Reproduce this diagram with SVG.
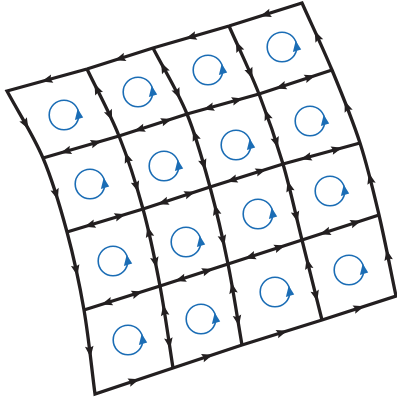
<svg xmlns="http://www.w3.org/2000/svg" xmlns:xlink="http://www.w3.org/1999/xlink" width="397" height="401" viewBox="0 0 397 401">
<style>
.ln{fill:none;stroke:#231f20;stroke-width:3.3;stroke-linejoin:miter;stroke-miterlimit:10}
.ah{fill:#231f20}
.cy{fill:none;stroke:#1b6db5;stroke-width:1.6}
.cah{fill:#1b6db5}
</style>
<defs>
<path id="ah" class="ah" d="M5.6,0 L-5.4,-4.3 L-3.6,0 L-5.4,4.3 Z"/>
<g id="cyc">
<circle class="cy" cx="0" cy="0" r="14.8"/>
<path class="cah" d="M13.7,-6.2 L10.9,5 L19.2,2.6 Z"/>
</g>
</defs>
<rect width="397" height="401" fill="#fff"/>
<g id="connectors">
<path class="ln" d="M7,91 L87,69 L153,48 L229,26 L302,3 C312,25.33 322.33,46.67 332,70 C341.67,93.33 352.17,118.83 360,143 C367.83,167.17 373,189.5 379,215 C385,240.5 390.33,269 396,296 L322,320 L242,345 L173,368 L95,394 C91.33,366 88.67,337 84,310 C79.33,283 73.83,257.33 67,232 C60.17,206.67 53,181.5 43,158 C33,134.5 19,113.33 7,91 Z"/>
<path class="ln" d="M43,158 L119,136 L187,114 L259,94 L332,70"/>
<path class="ln" d="M67,232 L143,209 L210,187 L283,164 L360,143"/>
<path class="ln" d="M84,310 L160,286 L228,264 L302,240 L379,215"/>
<path class="ln" d="M87,69 C97.67,91.33 109.67,112.67 119,136 C128.33,159.33 136.17,184 143,209 C149.83,234 155,259.5 160,286 C165,312.5 168.67,340.67 173,368"/>
<path class="ln" d="M153,48 C164.33,70 177.5,90.83 187,114 C196.5,137.17 203.17,162 210,187 C216.83,212 222.67,237.67 228,264 C233.330,290.33 237.33,318 242,345"/>
<path class="ln" d="M229,26 C239,48.67 250,71 259,94 C268,117 275.83,139.67 283,164 C290.17,188.33 295.5,214 302,240 C308.5,266 315.33,293.33 322,320"/>
<g id="arrows">
<use xlink:href="#ah" transform="translate(25.75,124.06) rotate(60.4)"/>
<use xlink:href="#ah" transform="translate(56.19,194.31) rotate(72.55)"/>
<use xlink:href="#ah" transform="translate(76.31,270.38) rotate(77.75)"/>
<use xlink:href="#ah" transform="translate(89.88,351.6) rotate(83.1)"/>
<use xlink:href="#ah" transform="translate(317.1,36.1) rotate(245.4)"/>
<use xlink:href="#ah" transform="translate(346.7,106.2) rotate(248.6)"/>
<use xlink:href="#ah" transform="translate(370.2,178.5) rotate(255.6)"/>
<use xlink:href="#ah" transform="translate(387.6,254.9) rotate(258.5)"/>
<use xlink:href="#ah" transform="translate(47,80) rotate(164.6)"/>
<use xlink:href="#ah" transform="translate(120,58.5) rotate(162.4)"/>
<use xlink:href="#ah" transform="translate(191,37) rotate(163.9)"/>
<use xlink:href="#ah" transform="translate(265.5,14.5) rotate(162.5)"/>
<use xlink:href="#ah" transform="translate(134,381) rotate(-18.4)"/>
<use xlink:href="#ah" transform="translate(207.5,356.5) rotate(-18.4)"/>
<use xlink:href="#ah" transform="translate(282,332.5) rotate(-17.4)"/>
<use xlink:href="#ah" transform="translate(359,308) rotate(-18)"/>
<use xlink:href="#ah" transform="translate(96.85,88.91) rotate(245.6)"/>
<use xlink:href="#ah" transform="translate(109.99,115.46) rotate(67.1)"/>
<use xlink:href="#ah" transform="translate(127.01,157.33) rotate(250.2)"/>
<use xlink:href="#ah" transform="translate(136.56,186.61) rotate(72.7)"/>
<use xlink:href="#ah" transform="translate(148.74,231.65) rotate(256.1)"/>
<use xlink:href="#ah" transform="translate(155.42,262.41) rotate(77.9)"/>
<use xlink:href="#ah" transform="translate(164.2,310.24) rotate(259.8)"/>
<use xlink:href="#ah" transform="translate(169.23,343.24) rotate(80.5)"/>
<use xlink:href="#ah" transform="translate(163.55,67.58) rotate(244.2)"/>
<use xlink:href="#ah" transform="translate(177.61,93.69) rotate(66.2)"/>
<use xlink:href="#ah" transform="translate(194.87,135.26) rotate(249.8)"/>
<use xlink:href="#ah" transform="translate(203.82,164.59) rotate(72.6)"/>
<use xlink:href="#ah" transform="translate(215.89,209.68) rotate(255.9)"/>
<use xlink:href="#ah" transform="translate(223.05,240.48) rotate(77.4)"/>
<use xlink:href="#ah" transform="translate(232.49,288.01) rotate(259)"/>
<use xlink:href="#ah" transform="translate(237.93,320.58) rotate(79.7)"/>
<use xlink:href="#ah" transform="translate(238.19,46.34) rotate(246.9)"/>
<use xlink:href="#ah" transform="translate(250.44,73.45) rotate(67.9)"/>
<use xlink:href="#ah" transform="translate(266.8,114.67) rotate(250.1)"/>
<use xlink:href="#ah" transform="translate(276.35,142.49) rotate(72.1)"/>
<use xlink:href="#ah" transform="translate(289.03,186.23) rotate(254.3)"/>
<use xlink:href="#ah" transform="translate(296.39,216.71) rotate(75.3)"/>
<use xlink:href="#ah" transform="translate(307.93,263.71) rotate(256)"/>
<use xlink:href="#ah" transform="translate(315.97,295.87) rotate(76)"/>
<use xlink:href="#ah" transform="translate(65.8,151.4) rotate(163.9)"/>
<use xlink:href="#ah" transform="translate(96.2,142.6) rotate(-16.1)"/>
<use xlink:href="#ah" transform="translate(139.4,129.4) rotate(162.1)"/>
<use xlink:href="#ah" transform="translate(166.6,120.6) rotate(-17.9)"/>
<use xlink:href="#ah" transform="translate(208.6,108) rotate(164.5)"/>
<use xlink:href="#ah" transform="translate(237.4,100) rotate(-15.5)"/>
<use xlink:href="#ah" transform="translate(280.9,86.8) rotate(161.8)"/>
<use xlink:href="#ah" transform="translate(310.1,77.2) rotate(-18.2)"/>
<use xlink:href="#ah" transform="translate(89.8,225.1) rotate(163.2)"/>
<use xlink:href="#ah" transform="translate(120.2,215.9) rotate(-16.8)"/>
<use xlink:href="#ah" transform="translate(163.1,202.4) rotate(161.8)"/>
<use xlink:href="#ah" transform="translate(189.9,193.6) rotate(-18.2)"/>
<use xlink:href="#ah" transform="translate(231.9,180.1) rotate(162.5)"/>
<use xlink:href="#ah" transform="translate(261.1,170.9) rotate(-17.5)"/>
<use xlink:href="#ah" transform="translate(306.1,157.7) rotate(164.7)"/>
<use xlink:href="#ah" transform="translate(336.9,149.3) rotate(-15.3)"/>
<use xlink:href="#ah" transform="translate(106.8,302.8) rotate(162.5)"/>
<use xlink:href="#ah" transform="translate(137.2,293.2) rotate(-17.5)"/>
<use xlink:href="#ah" transform="translate(180.4,279.4) rotate(162.1)"/>
<use xlink:href="#ah" transform="translate(207.6,270.6) rotate(-17.9)"/>
<use xlink:href="#ah" transform="translate(250.2,256.8) rotate(162)"/>
<use xlink:href="#ah" transform="translate(279.8,247.2) rotate(-18)"/>
<use xlink:href="#ah" transform="translate(325.1,232.5) rotate(162)"/>
<use xlink:href="#ah" transform="translate(355.9,222.5) rotate(-18)"/>
</g>
</g>
<g id="cell-0-0"><use xlink:href="#cyc" transform="translate(64,115)"/></g>
<g id="cell-0-1"><use xlink:href="#cyc" transform="translate(138,92)"/></g>
<g id="cell-0-2"><use xlink:href="#cyc" transform="translate(208,70)"/></g>
<g id="cell-0-3"><use xlink:href="#cyc" transform="translate(282,47)"/></g>
<g id="cell-1-0"><use xlink:href="#cyc" transform="translate(90,184)"/></g>
<g id="cell-1-1"><use xlink:href="#cyc" transform="translate(164,166)"/></g>
<g id="cell-1-2"><use xlink:href="#cyc" transform="translate(236,145)"/></g>
<g id="cell-1-3"><use xlink:href="#cyc" transform="translate(310,121)"/></g>
<g id="cell-2-0"><use xlink:href="#cyc" transform="translate(113,261)"/></g>
<g id="cell-2-1"><use xlink:href="#cyc" transform="translate(186,242)"/></g>
<g id="cell-2-2"><use xlink:href="#cyc" transform="translate(258,214)"/></g>
<g id="cell-2-3"><use xlink:href="#cyc" transform="translate(330,191)"/></g>
<g id="cell-3-0"><use xlink:href="#cyc" transform="translate(128,340)"/></g>
<g id="cell-3-1"><use xlink:href="#cyc" transform="translate(201,319)"/></g>
<g id="cell-3-2"><use xlink:href="#cyc" transform="translate(275,292)"/></g>
<g id="cell-3-3"><use xlink:href="#cyc" transform="translate(349,270)"/></g>
</svg>
